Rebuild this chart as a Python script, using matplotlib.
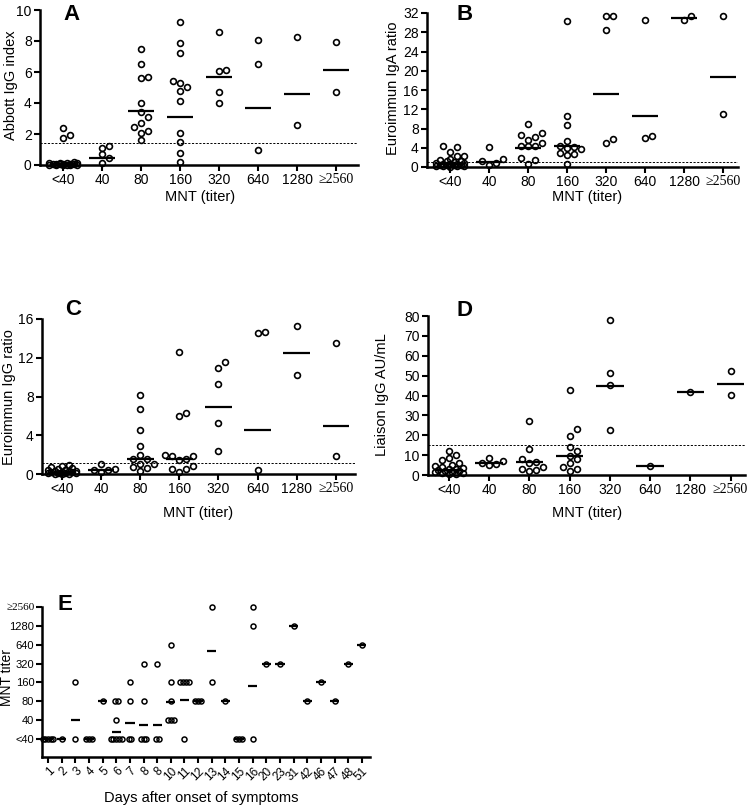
import matplotlib
matplotlib.use('Agg')
import matplotlib.pyplot as plt
import numpy as np

plt.rcParams['font.family'] = ['Liberation Sans', 'DejaVu Sans']

W, H = 751, 807

titers = ['<40', '40', '80', '160', '320', '640', '1280', '≥2560']

# panel A - Abbott IgG index per MNT titer group
abbott_vals = [
    [2.4, 1.95, 1.75, 0.2, 0.15, 0.12, 0.1, 0.1, 0.08, 0.07, 0.06, 0.05, 0.05, 0.04,
     0.03, 0.03, 0.02, 0.02, 0.01, 0.01],
    [1.23, 1.12, 0.69, 0.43, 0.11],
    [7.46, 6.49, 5.68, 5.63, 4.0, 3.4, 3.1, 2.71, 2.47, 2.22, 2.06, 1.63],
    [9.25, 7.89, 7.25, 5.4, 5.27, 5.05, 4.75, 4.15, 2.04, 1.51, 0.8, 0.22],
    [8.56, 6.13, 6.06, 4.69, 4.0],
    [8.06, 6.49, 0.97],
    [8.26, 2.56],
    [7.91, 4.73],
]
abbott_mid = [0.05, 0.48, 3.5, 3.12, 5.68, 3.7, 4.58, 6.13]
abbott_cut = 1.4

# panel B - Euroimmun IgA ratio
iga_vals = [
    [4.4, 4.2, 3.1, 2.3, 2.2, 1.7, 1.5, 1.3, 1.2, 1.0, 0.9, 0.8, 0.7, 0.6, 0.6, 0.5,
     0.5, 0.4, 0.4, 0.3, 0.3, 0.2, 0.2, 0.1],
    [4.17, 1.6, 1.25, 0.83, 0.35],
    [9.0, 7.0, 6.7, 6.3, 5.7, 5.0, 4.4, 4.3, 4.3, 1.95, 1.5, 0.7],
    [30.4, 10.6, 8.8, 5.4, 4.3, 4.2, 4.0, 3.7, 2.9, 2.8, 2.5, 0.56],
    [31.4, 31.4, 28.45, 5.9, 5.0],
    [30.5, 6.47, 6.1],
    [30.5, 31.4],
    [31.4, 11.0],
]
iga_mid = [0.6, 1.04, 3.9, 4.3, 15.2, 10.6, 30.9, 18.6]
iga_cut = 1.1

# panel C - Euroimmun IgG ratio
igg_vals = [
    [0.9, 0.8, 0.7, 0.6, 0.5, 0.45, 0.4, 0.35, 0.3, 0.3, 0.25, 0.2, 0.2, 0.15, 0.1,
     0.1, 0.1, 0.05, 0.05, 0.0],
    [1.03, 0.48, 0.45, 0.42, 0.2],
    [8.13, 6.68, 4.5, 2.9, 1.97, 1.6, 1.5, 1.05, 1.0, 0.7, 0.65, 0.3],
    [12.6, 6.26, 6.0, 1.97, 1.86, 1.86, 1.6, 1.45, 0.83, 0.48, 0.48, 0.17],
    [11.6, 10.97, 9.3, 5.3, 2.4],
    [14.7, 14.6, 0.4],
    [15.26, 10.2],
    [13.56, 1.86],
]
igg_mid = [0.1, 0.41, 1.55, 1.55, 6.9, 4.57, 12.5, 5.0]
igg_cut = 1.1

# panel D - Liaison IgG AU/mL
liaison_vals = [
    [12, 10, 8.5, 7.5, 6, 5, 4.5, 4, 3.5, 3, 3, 2.5, 2, 2, 1.5, 1.5, 1, 1, 0.5, 0.5],
    [8.5, 7, 6, 5.5, 5],
    [27.3, 13, 8, 6.5, 6, 4, 3, 2.5, 2],
    [42.9, 22.9, 19.8, 14, 12, 9.5, 8, 6, 4, 3, 2],
    [78.1, 51.5, 45.25, 22.5],
    [4.5],
    [42.0],
    [52.4, 40.2],
]
liaison_mid = [2.5, 6.0, 6.5, 9.5, 45.0, 4.5, 42.0, 45.9]
liaison_cut = 15

# panel E - MNT titer by days after onset of symptoms
e_days = ['1', '2', '3', '4', '5', '6', '7', '8', '8', '10', '11', '12', '13', '14',
          '15', '16', '20', '23', '31', '42', '46', '47', '48', '51']
e_titers = [
    ['<40'] * 5,
    ['<40'],
    ['160', '<40'],
    ['<40'] * 3,
    ['80'],
    ['80', '80', '40'] + ['<40'] * 5,
    ['160', '80', '<40', '<40'],
    ['320', '80', '<40', '<40', '<40'],
    ['320', '<40', '<40'],
    ['640', '160', '80', '40', '40', '40'],
    ['160', '160', '160', '160', '<40'],
    ['80', '80', '80'],
    ['≥2560', '160'],
    ['80'],
    ['<40', '<40', '<40'],
    ['≥2560', '1280', '<40'],
    ['320'],
    ['320'],
    ['1280'],
    ['80'],
    ['160'],
    ['80'],
    ['320'],
    ['640'],
]
# mean titer per day, on the titer category scale (<40 = 0 ... >=2560 = 7)
e_mean = [0, 0, 1.0, 0, 2, 0.39, 0.86, 0.72, 0.72, 1.94, 2.06, 2, 4.67, 2, 0,
          2.82, 4, 4, 6, 2, 3, 2, 4, 5]


def px_rect(x0, x1, y_top, y_bot):
    return [x0 / W, 1 - y_bot / H, (x1 - x0) / W, (y_bot - y_top) / H]


def swarm(ax, xc, vals, step_px=7.0, min_px=6.5):
    # simple beeswarm: spread points that collide, in pixel space
    tr = ax.transData
    cands = [0, 1, -1, 2, -2, 0.5, -0.5, 1.5, -1.5]
    offs = np.zeros(len(vals))
    placed = []
    for idx in np.argsort(vals):
        px, py = tr.transform((xc, vals[idx]))
        best, best_d = 0, -1
        for c in cands:
            x = px + c * step_px
            d = min([np.hypot(x - qx, py - qy) for qx, qy in placed], default=1e9)
            if d >= min_px:
                best = c
                break
            if d > best_d:
                best_d, best = d, c
        placed.append((px + best * step_px, py))
        offs[idx] = best * step_px
    unit = tr.transform((1, 0))[0] - tr.transform((0, 0))[0]
    return offs / unit


def style_axes(ax, ylim):
    for s in ['top', 'right']:
        ax.spines[s].set_visible(False)
    for s in ['left', 'bottom']:
        ax.spines[s].set_linewidth(1.8)
    ax.spines['left'].set_bounds(ylim[0], ylim[1])
    ax.tick_params(direction='out', length=4, width=1.5, labelsize=10, pad=2)


fig = plt.figure(figsize=(W / 100, H / 100), dpi=100)


def dot_panel(rect, xlim, vals, mids, cut, ylim, yticks):
    ax = fig.add_axes(rect)
    ax.set_xlim(xlim)
    ax.set_ylim(ylim)
    style_axes(ax, ylim)
    ax.axhline(cut, color='k', lw=0.7, ls=(0, (2.2, 1.6)), zorder=1)
    for i, (v, m) in enumerate(zip(vals, mids)):
        ax.hlines(m, i - 0.34, i + 0.34, color='k', lw=1.6, zorder=2)
        off = swarm(ax, i, v)
        ax.plot(i + off, v, 'o', ms=4.2, mfc='none', mec='k', mew=1.2,
                clip_on=False, zorder=3)
    ax.set_xticks(range(len(titers)))
    ax.set_xticklabels(titers)
    ax.get_xticklabels()[-1].set_fontfamily('Liberation Serif')
    ax.set_yticks(yticks)
    return ax


dot_panel(px_rect(40, 358, 10, 165), (-0.59, 7.56), abbott_vals, abbott_mid,
          abbott_cut, (0, 10), range(0, 11, 2))
dot_panel(px_rect(427, 738, 13, 167), (-0.59, 7.38), iga_vals, iga_mid,
          iga_cut, (0, 32), range(0, 33, 4))
dot_panel(px_rect(42, 355, 319, 474), (-0.51, 7.49), igg_vals, igg_mid,
          igg_cut, (0, 16), range(0, 17, 4))
dot_panel(px_rect(428, 745, 316, 475), (-0.52, 7.36), liaison_vals, liaison_mid,
          liaison_cut, (0, 80), range(0, 81, 10))

# panel E
axe = fig.add_axes(px_rect(42, 370, 607, 757))
axe.set_xlim(-0.44, 23.6)
axe.set_ylim(-0.95, 7)
style_axes(axe, (-0.95, 7))
for i, (tl, m) in enumerate(zip(e_titers, e_mean)):
    axe.hlines(m, i - 0.34, i + 0.34, color='k', lw=1.6, zorder=2)
    for t in set(tl):
        n = tl.count(t)
        xs = i + (np.arange(n) - (n - 1) / 2) * 0.2
        axe.plot(xs, [titers.index(t)] * n, 'o', ms=3.6, mfc='none', mec='k',
                 mew=1.1, clip_on=False, zorder=3)
axe.set_yticks(range(len(titers)))
axe.set_yticklabels(titers)
axe.get_yticklabels()[-1].set_fontfamily('Liberation Serif')
axe.set_xticks(range(len(e_days)))
axe.set_xticklabels(e_days, rotation=45, ha='right', rotation_mode='anchor')
axe.tick_params(axis='y', labelsize=8, pad=1.5)
axe.tick_params(axis='x', labelsize=8.5)

# axis labels
lab = dict(fontsize=10.5, ha='center', va='center')
fig.text(11 / W, 1 - 85 / H, 'Abbott IgG index', rotation=90, **lab)
fig.text(393 / W, 1 - 88 / H, 'Euroimmun IgA ratio', rotation=90, **lab)
fig.text(9 / W, 1 - 397 / H, 'Euroimmun IgG ratio', rotation=90, **lab)
fig.text(382 / W, 1 - 395 / H, 'Liaison IgG AU/mL', rotation=90, **lab)
fig.text(7.5 / W, 1 - 677 / H, 'MNT titer', rotation=90, fontsize=10,
         ha='center', va='center')
fig.text(200 / W, 1 - 197 / H, 'MNT (titer)', **lab)
fig.text(587 / W, 1 - 197 / H, 'MNT (titer)', **lab)
fig.text(198 / W, 1 - 513 / H, 'MNT (titer)', **lab)
fig.text(587 / W, 1 - 513 / H, 'MNT (titer)', **lab)
fig.text(201 / W, 1 - 798 / H, 'Days after onset of symptoms', **lab)

# panel letters
for letter, x, y in [('A', 63, 20), ('B', 457, 20), ('C', 65, 315),
                     ('D', 457, 316), ('E', 58, 610)]:
    fig.text(x / W, 1 - y / H, letter, fontsize=16, fontweight='bold',
             ha='left', va='baseline')

fig.savefig('out.png', dpi=100)
